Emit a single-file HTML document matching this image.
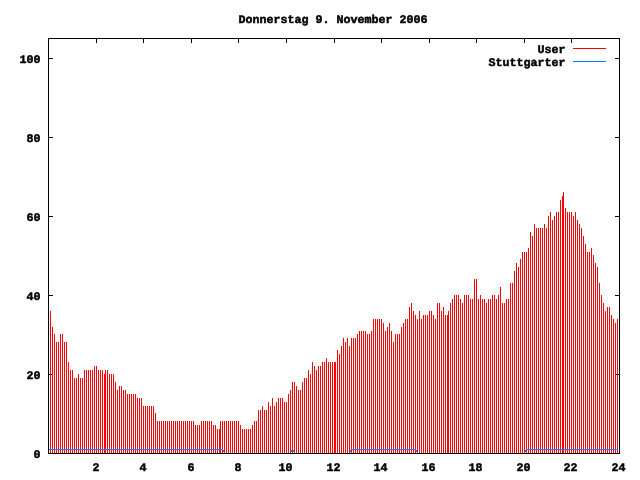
<!DOCTYPE html>
<html><head><meta charset="utf-8"><title>Donnerstag 9. November 2006</title>
<style>
html,body{margin:0;padding:0;background:#fff;}
svg{display:block;}
text{text-rendering:geometricPrecision;font-family:"Liberation Mono","DejaVu Sans Mono",monospace;font-weight:bold;font-size:11.5px;fill:#000;stroke:#000;stroke-width:0.5px;stroke-linejoin:miter;}
</style></head><body>
<svg width="640" height="480" viewBox="0 0 640 480" shape-rendering="crispEdges">
<rect x="0" y="0" width="640" height="480" fill="#fff"/>
<g fill="#000"><rect x="48" y="38" width="1" height="5"/><rect x="48" y="449" width="1" height="5"/><rect x="96" y="38" width="1" height="5"/><rect x="96" y="449" width="1" height="5"/><rect x="143" y="38" width="1" height="5"/><rect x="143" y="449" width="1" height="5"/><rect x="191" y="38" width="1" height="5"/><rect x="191" y="449" width="1" height="5"/><rect x="238" y="38" width="1" height="5"/><rect x="238" y="449" width="1" height="5"/><rect x="286" y="38" width="1" height="5"/><rect x="286" y="449" width="1" height="5"/><rect x="334" y="38" width="1" height="5"/><rect x="334" y="449" width="1" height="5"/><rect x="381" y="38" width="1" height="5"/><rect x="381" y="449" width="1" height="5"/><rect x="429" y="38" width="1" height="5"/><rect x="429" y="449" width="1" height="5"/><rect x="476" y="38" width="1" height="5"/><rect x="476" y="449" width="1" height="5"/><rect x="524" y="38" width="1" height="5"/><rect x="524" y="449" width="1" height="5"/><rect x="571" y="38" width="1" height="5"/><rect x="571" y="449" width="1" height="5"/><rect x="619" y="38" width="1" height="5"/><rect x="619" y="449" width="1" height="5"/><rect x="48" y="453" width="5" height="1"/><rect x="615" y="453" width="5" height="1"/><rect x="48" y="374" width="5" height="1"/><rect x="615" y="374" width="5" height="1"/><rect x="48" y="295" width="5" height="1"/><rect x="615" y="295" width="5" height="1"/><rect x="48" y="216" width="5" height="1"/><rect x="615" y="216" width="5" height="1"/><rect x="48" y="137" width="5" height="1"/><rect x="615" y="137" width="5" height="1"/><rect x="48" y="58" width="5" height="1"/><rect x="615" y="58" width="5" height="1"/></g>
<g fill="#f00"><rect x="50" y="311" width="1" height="142"/><rect x="52" y="327" width="1" height="126"/><rect x="54" y="334" width="1" height="119"/><rect x="56" y="342" width="1" height="111"/><rect x="58" y="342" width="1" height="111"/><rect x="60" y="334" width="1" height="119"/><rect x="62" y="334" width="1" height="119"/><rect x="64" y="342" width="1" height="111"/><rect x="66" y="342" width="1" height="111"/><rect x="68" y="362" width="1" height="91"/><rect x="70" y="370" width="1" height="83"/><rect x="72" y="370" width="1" height="83"/><rect x="74" y="378" width="1" height="75"/><rect x="76" y="378" width="1" height="75"/><rect x="78" y="374" width="1" height="79"/><rect x="80" y="378" width="1" height="75"/><rect x="82" y="378" width="1" height="75"/><rect x="84" y="370" width="1" height="83"/><rect x="86" y="370" width="1" height="83"/><rect x="88" y="370" width="1" height="83"/><rect x="90" y="370" width="1" height="83"/><rect x="92" y="370" width="1" height="83"/><rect x="94" y="366" width="1" height="87"/><rect x="96" y="366" width="1" height="87"/><rect x="98" y="370" width="1" height="83"/><rect x="100" y="370" width="1" height="83"/><rect x="102" y="370" width="1" height="83"/><rect x="104" y="374" width="1" height="79"/><rect x="105" y="370" width="1" height="83"/><rect x="107" y="370" width="1" height="83"/><rect x="109" y="374" width="1" height="79"/><rect x="111" y="374" width="1" height="79"/><rect x="113" y="374" width="1" height="79"/><rect x="115" y="382" width="1" height="71"/><rect x="117" y="390" width="1" height="63"/><rect x="119" y="386" width="1" height="67"/><rect x="121" y="386" width="1" height="67"/><rect x="123" y="390" width="1" height="63"/><rect x="125" y="390" width="1" height="63"/><rect x="127" y="394" width="1" height="59"/><rect x="129" y="394" width="1" height="59"/><rect x="131" y="394" width="1" height="59"/><rect x="133" y="394" width="1" height="59"/><rect x="135" y="394" width="1" height="59"/><rect x="137" y="398" width="1" height="55"/><rect x="139" y="398" width="1" height="55"/><rect x="141" y="398" width="1" height="55"/><rect x="143" y="406" width="1" height="47"/><rect x="145" y="406" width="1" height="47"/><rect x="147" y="406" width="1" height="47"/><rect x="149" y="406" width="1" height="47"/><rect x="151" y="406" width="1" height="47"/><rect x="153" y="406" width="1" height="47"/><rect x="155" y="413" width="1" height="40"/><rect x="157" y="421" width="1" height="32"/><rect x="159" y="421" width="1" height="32"/><rect x="161" y="421" width="1" height="32"/><rect x="163" y="421" width="1" height="32"/><rect x="165" y="421" width="1" height="32"/><rect x="167" y="421" width="1" height="32"/><rect x="169" y="421" width="1" height="32"/><rect x="171" y="421" width="1" height="32"/><rect x="173" y="421" width="1" height="32"/><rect x="175" y="421" width="1" height="32"/><rect x="177" y="421" width="1" height="32"/><rect x="179" y="421" width="1" height="32"/><rect x="181" y="421" width="1" height="32"/><rect x="183" y="421" width="1" height="32"/><rect x="185" y="421" width="1" height="32"/><rect x="187" y="421" width="1" height="32"/><rect x="189" y="421" width="1" height="32"/><rect x="191" y="421" width="1" height="32"/><rect x="193" y="421" width="1" height="32"/><rect x="195" y="425" width="1" height="28"/><rect x="197" y="425" width="1" height="28"/><rect x="199" y="425" width="1" height="28"/><rect x="201" y="421" width="1" height="32"/><rect x="203" y="421" width="1" height="32"/><rect x="205" y="421" width="1" height="32"/><rect x="207" y="421" width="1" height="32"/><rect x="209" y="421" width="1" height="32"/><rect x="211" y="421" width="1" height="32"/><rect x="213" y="425" width="1" height="28"/><rect x="215" y="425" width="1" height="28"/><rect x="217" y="429" width="1" height="24"/><rect x="219" y="429" width="1" height="24"/><rect x="220" y="421" width="1" height="32"/><rect x="222" y="421" width="1" height="32"/><rect x="224" y="421" width="1" height="32"/><rect x="226" y="421" width="1" height="32"/><rect x="228" y="421" width="1" height="32"/><rect x="230" y="421" width="1" height="32"/><rect x="232" y="421" width="1" height="32"/><rect x="234" y="421" width="1" height="32"/><rect x="236" y="421" width="1" height="32"/><rect x="238" y="421" width="1" height="32"/><rect x="240" y="425" width="1" height="28"/><rect x="242" y="429" width="1" height="24"/><rect x="244" y="429" width="1" height="24"/><rect x="246" y="429" width="1" height="24"/><rect x="248" y="429" width="1" height="24"/><rect x="250" y="429" width="1" height="24"/><rect x="252" y="425" width="1" height="28"/><rect x="254" y="421" width="1" height="32"/><rect x="256" y="421" width="1" height="32"/><rect x="258" y="410" width="1" height="43"/><rect x="260" y="410" width="1" height="43"/><rect x="262" y="406" width="1" height="47"/><rect x="264" y="410" width="1" height="43"/><rect x="266" y="410" width="1" height="43"/><rect x="268" y="402" width="1" height="51"/><rect x="270" y="406" width="1" height="47"/><rect x="272" y="398" width="1" height="55"/><rect x="274" y="406" width="1" height="47"/><rect x="276" y="402" width="1" height="51"/><rect x="278" y="398" width="1" height="55"/><rect x="280" y="398" width="1" height="55"/><rect x="282" y="398" width="1" height="55"/><rect x="284" y="402" width="1" height="51"/><rect x="286" y="402" width="1" height="51"/><rect x="288" y="394" width="1" height="59"/><rect x="290" y="390" width="1" height="63"/><rect x="292" y="382" width="1" height="71"/><rect x="294" y="382" width="1" height="71"/><rect x="296" y="386" width="1" height="67"/><rect x="298" y="390" width="1" height="63"/><rect x="300" y="390" width="1" height="63"/><rect x="302" y="382" width="1" height="71"/><rect x="304" y="378" width="1" height="75"/><rect x="306" y="378" width="1" height="75"/><rect x="308" y="370" width="1" height="83"/><rect x="310" y="374" width="1" height="79"/><rect x="312" y="362" width="1" height="91"/><rect x="314" y="366" width="1" height="87"/><rect x="316" y="370" width="1" height="83"/><rect x="318" y="366" width="1" height="87"/><rect x="320" y="366" width="1" height="87"/><rect x="322" y="362" width="1" height="91"/><rect x="324" y="362" width="1" height="91"/><rect x="326" y="358" width="1" height="95"/><rect x="328" y="362" width="1" height="91"/><rect x="330" y="362" width="1" height="91"/><rect x="332" y="362" width="1" height="91"/><rect x="334" y="362" width="1" height="91"/><rect x="335" y="362" width="1" height="91"/><rect x="337" y="350" width="1" height="103"/><rect x="339" y="354" width="1" height="99"/><rect x="341" y="346" width="1" height="107"/><rect x="343" y="338" width="1" height="115"/><rect x="345" y="342" width="1" height="111"/><rect x="347" y="338" width="1" height="115"/><rect x="349" y="346" width="1" height="107"/><rect x="351" y="338" width="1" height="115"/><rect x="353" y="338" width="1" height="115"/><rect x="355" y="338" width="1" height="115"/><rect x="357" y="334" width="1" height="119"/><rect x="359" y="331" width="1" height="122"/><rect x="361" y="331" width="1" height="122"/><rect x="363" y="331" width="1" height="122"/><rect x="365" y="331" width="1" height="122"/><rect x="367" y="334" width="1" height="119"/><rect x="369" y="334" width="1" height="119"/><rect x="371" y="331" width="1" height="122"/><rect x="373" y="319" width="1" height="134"/><rect x="375" y="319" width="1" height="134"/><rect x="377" y="319" width="1" height="134"/><rect x="379" y="319" width="1" height="134"/><rect x="381" y="319" width="1" height="134"/><rect x="383" y="323" width="1" height="130"/><rect x="385" y="331" width="1" height="122"/><rect x="387" y="327" width="1" height="126"/><rect x="389" y="323" width="1" height="130"/><rect x="391" y="331" width="1" height="122"/><rect x="393" y="342" width="1" height="111"/><rect x="395" y="334" width="1" height="119"/><rect x="397" y="334" width="1" height="119"/><rect x="399" y="334" width="1" height="119"/><rect x="401" y="327" width="1" height="126"/><rect x="403" y="323" width="1" height="130"/><rect x="405" y="319" width="1" height="134"/><rect x="407" y="319" width="1" height="134"/><rect x="409" y="307" width="1" height="146"/><rect x="411" y="303" width="1" height="150"/><rect x="413" y="311" width="1" height="142"/><rect x="415" y="315" width="1" height="138"/><rect x="417" y="319" width="1" height="134"/><rect x="419" y="311" width="1" height="142"/><rect x="421" y="319" width="1" height="134"/><rect x="423" y="315" width="1" height="138"/><rect x="425" y="315" width="1" height="138"/><rect x="427" y="315" width="1" height="138"/><rect x="429" y="311" width="1" height="142"/><rect x="431" y="311" width="1" height="142"/><rect x="433" y="315" width="1" height="138"/><rect x="435" y="319" width="1" height="134"/><rect x="437" y="303" width="1" height="150"/><rect x="439" y="303" width="1" height="150"/><rect x="441" y="311" width="1" height="142"/><rect x="443" y="307" width="1" height="146"/><rect x="445" y="315" width="1" height="138"/><rect x="447" y="315" width="1" height="138"/><rect x="448" y="311" width="1" height="142"/><rect x="450" y="303" width="1" height="150"/><rect x="452" y="299" width="1" height="154"/><rect x="454" y="295" width="1" height="158"/><rect x="456" y="295" width="1" height="158"/><rect x="458" y="295" width="1" height="158"/><rect x="460" y="299" width="1" height="154"/><rect x="462" y="303" width="1" height="150"/><rect x="464" y="295" width="1" height="158"/><rect x="466" y="295" width="1" height="158"/><rect x="468" y="295" width="1" height="158"/><rect x="470" y="299" width="1" height="154"/><rect x="472" y="299" width="1" height="154"/><rect x="474" y="279" width="1" height="174"/><rect x="476" y="279" width="1" height="174"/><rect x="478" y="299" width="1" height="154"/><rect x="480" y="295" width="1" height="158"/><rect x="482" y="299" width="1" height="154"/><rect x="484" y="299" width="1" height="154"/><rect x="486" y="303" width="1" height="150"/><rect x="488" y="299" width="1" height="154"/><rect x="490" y="299" width="1" height="154"/><rect x="492" y="295" width="1" height="158"/><rect x="494" y="295" width="1" height="158"/><rect x="496" y="299" width="1" height="154"/><rect x="498" y="295" width="1" height="158"/><rect x="500" y="287" width="1" height="166"/><rect x="502" y="303" width="1" height="150"/><rect x="504" y="303" width="1" height="150"/><rect x="506" y="299" width="1" height="154"/><rect x="508" y="299" width="1" height="154"/><rect x="510" y="283" width="1" height="170"/><rect x="512" y="283" width="1" height="170"/><rect x="514" y="271" width="1" height="182"/><rect x="516" y="263" width="1" height="190"/><rect x="518" y="267" width="1" height="186"/><rect x="520" y="259" width="1" height="194"/><rect x="522" y="252" width="1" height="201"/><rect x="524" y="252" width="1" height="201"/><rect x="526" y="252" width="1" height="201"/><rect x="528" y="248" width="1" height="205"/><rect x="530" y="232" width="1" height="221"/><rect x="532" y="236" width="1" height="217"/><rect x="534" y="224" width="1" height="229"/><rect x="536" y="228" width="1" height="225"/><rect x="538" y="228" width="1" height="225"/><rect x="540" y="228" width="1" height="225"/><rect x="542" y="228" width="1" height="225"/><rect x="544" y="224" width="1" height="229"/><rect x="546" y="228" width="1" height="225"/><rect x="548" y="216" width="1" height="237"/><rect x="550" y="212" width="1" height="241"/><rect x="552" y="220" width="1" height="233"/><rect x="554" y="216" width="1" height="237"/><rect x="556" y="212" width="1" height="241"/><rect x="558" y="212" width="1" height="241"/><rect x="560" y="200" width="1" height="253"/><rect x="562" y="196" width="1" height="257"/><rect x="563" y="192" width="1" height="261"/><rect x="565" y="208" width="1" height="245"/><rect x="567" y="212" width="1" height="241"/><rect x="569" y="212" width="1" height="241"/><rect x="571" y="212" width="1" height="241"/><rect x="573" y="216" width="1" height="237"/><rect x="575" y="212" width="1" height="241"/><rect x="577" y="220" width="1" height="233"/><rect x="579" y="224" width="1" height="229"/><rect x="581" y="228" width="1" height="225"/><rect x="583" y="236" width="1" height="217"/><rect x="585" y="244" width="1" height="209"/><rect x="587" y="252" width="1" height="201"/><rect x="589" y="252" width="1" height="201"/><rect x="591" y="248" width="1" height="205"/><rect x="593" y="255" width="1" height="198"/><rect x="595" y="263" width="1" height="190"/><rect x="597" y="267" width="1" height="186"/><rect x="599" y="283" width="1" height="170"/><rect x="601" y="295" width="1" height="158"/><rect x="603" y="303" width="1" height="150"/><rect x="605" y="311" width="1" height="142"/><rect x="607" y="307" width="1" height="146"/><rect x="609" y="307" width="1" height="146"/><rect x="611" y="315" width="1" height="138"/><rect x="613" y="319" width="1" height="134"/><rect x="615" y="323" width="1" height="130"/><rect x="617" y="319" width="1" height="134"/></g>
<g fill="#0080ff"><rect x="49" y="449" width="174" height="1"/><rect x="223" y="450" width="1" height="2"/><rect x="224" y="452" width="1" height="1"/><rect x="290" y="452" width="1" height="1"/><rect x="291" y="450" width="1" height="2"/><rect x="292" y="449" width="1" height="1"/><rect x="293" y="450" width="1" height="2"/><rect x="294" y="452" width="1" height="1"/><rect x="349" y="452" width="1" height="1"/><rect x="350" y="450" width="1" height="2"/><rect x="351" y="449" width="65" height="1"/><rect x="416" y="450" width="1" height="2"/><rect x="417" y="452" width="1" height="1"/><rect x="524" y="452" width="1" height="1"/><rect x="525" y="450" width="1" height="2"/><rect x="526" y="449" width="92" height="1"/></g>
<rect x="573" y="48" width="33" height="1" fill="#f00"/><rect x="573" y="61" width="33" height="1" fill="#0080ff"/>
<g fill="#000"><rect x="48" y="38" width="572" height="1"/><rect x="48" y="453" width="572" height="1"/><rect x="48" y="38" width="1" height="416"/><rect x="619" y="38" width="1" height="416"/></g>
<g><text transform="translate(238.5,23) scale(1,1)" textLength="189" lengthAdjust="spacingAndGlyphs">Donnerstag 9. November 2006</text>
<text transform="translate(537.5,53) scale(1,1)" textLength="28" lengthAdjust="spacingAndGlyphs">User</text>
<text transform="translate(488.5,66) scale(1,1)" textLength="77" lengthAdjust="spacingAndGlyphs">Stuttgarter</text>
<text transform="translate(33.5,458) scale(1,1)" textLength="7" lengthAdjust="spacingAndGlyphs">0</text>
<text transform="translate(26.5,379) scale(1,1)" textLength="14" lengthAdjust="spacingAndGlyphs">20</text>
<text transform="translate(26.5,300) scale(1,1)" textLength="14" lengthAdjust="spacingAndGlyphs">40</text>
<text transform="translate(26.5,221) scale(1,1)" textLength="14" lengthAdjust="spacingAndGlyphs">60</text>
<text transform="translate(26.5,142) scale(1,1)" textLength="14" lengthAdjust="spacingAndGlyphs">80</text>
<text transform="translate(19.5,63) scale(1,1)" textLength="21" lengthAdjust="spacingAndGlyphs">100</text>
<text transform="translate(92.5,471) scale(1,1)" textLength="7" lengthAdjust="spacingAndGlyphs">2</text>
<text transform="translate(139.5,471) scale(1,1)" textLength="7" lengthAdjust="spacingAndGlyphs">4</text>
<text transform="translate(187.5,471) scale(1,1)" textLength="7" lengthAdjust="spacingAndGlyphs">6</text>
<text transform="translate(234.5,471) scale(1,1)" textLength="7" lengthAdjust="spacingAndGlyphs">8</text>
<text transform="translate(278.5,471) scale(1,1)" textLength="14" lengthAdjust="spacingAndGlyphs">10</text>
<text transform="translate(326.5,471) scale(1,1)" textLength="14" lengthAdjust="spacingAndGlyphs">12</text>
<text transform="translate(373.5,471) scale(1,1)" textLength="14" lengthAdjust="spacingAndGlyphs">14</text>
<text transform="translate(421.5,471) scale(1,1)" textLength="14" lengthAdjust="spacingAndGlyphs">16</text>
<text transform="translate(468.5,471) scale(1,1)" textLength="14" lengthAdjust="spacingAndGlyphs">18</text>
<text transform="translate(516.5,471) scale(1,1)" textLength="14" lengthAdjust="spacingAndGlyphs">20</text>
<text transform="translate(563.5,471) scale(1,1)" textLength="14" lengthAdjust="spacingAndGlyphs">22</text>
<text transform="translate(611.5,471) scale(1,1)" textLength="14" lengthAdjust="spacingAndGlyphs">24</text></g>
</svg></body></html>
